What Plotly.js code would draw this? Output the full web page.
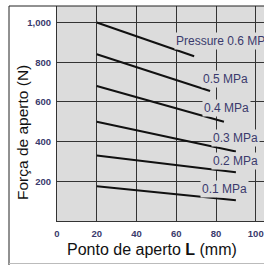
<!DOCTYPE html>
<html>
<head>
<meta charset="utf-8">
<script src="https://cdn.plot.ly/plotly-3.0.1.min.js"></script>
<style>
html,body{margin:0;padding:0;background:#fff;}
#chart{width:264px;height:266px;}
</style>
</head>
<body>
<div id="chart"></div>
<script>
// Data
const pressures = ["0.6", "0.5", "0.4", "0.3", "0.2", "0.1"];
const seriesLabels = ["Pressure 0.6 MPa", "0.5 MPa", "0.4 MPa", "0.3 MPa", "0.2 MPa", "0.1 MPa"];
const xStart = [20, 20, 20, 20, 20, 20];
const xEnd = [69, 77, 84, 90, 90, 90];
const yStart = [1000, 840, 680, 500, 330, 175];
const yEnd = [830, 655, 500, 350, 245, 105];
const xTickVals = [0, 20, 40, 60, 80, 100];
const xTickText = ["0", "20", "40", "60", "80", "100"];
const yTickVals = [200, 400, 600, 800, 1000];
const yTickText = ["200", "400", "600", "800", "1,000"];

// Label placement (data coordinates, left-anchored)
const labelPos = [[59, 909], [72.5, 713], [73, 571], [77.5, 419], [77.5, 301], [72, 159]];

const plotBg = "#dcdcdc";
const gridCol = "#333333";
const labelCol = "#3a3a6c";

const traces = pressures.map((p, i) => ({
  type: "scatter",
  mode: "lines",
  name: seriesLabels[i],
  x: [xStart[i], xEnd[i]],
  y: [yStart[i], yEnd[i]],
  line: {color: "#111111", width: 2},
  hoverinfo: "x+y+name"
}));

const annotations = seriesLabels.map((t, i) => ({
  x: labelPos[i][0], y: labelPos[i][1], xref: "x", yref: "y",
  text: t, showarrow: false, xanchor: "left", yanchor: "middle",
  bgcolor: plotBg, borderpad: 1,
  font: {family: "Liberation Sans, Arial, sans-serif", size: 12, color: labelCol}
}));

annotations.push({
  xref: "paper", yref: "paper", x: (152 - 57) / 207, y: (221 - 250) / 215,
  xanchor: "center", yanchor: "middle", showarrow: false,
  text: "Ponto de aperto <b>L</b> (mm)",
  font: {family: "Liberation Sans, Arial, sans-serif", size: 16, color: "#111"}
});
annotations.push({
  xref: "paper", yref: "paper", x: (22 - 57) / 207, y: (221 - 133) / 215,
  xanchor: "center", yanchor: "middle", showarrow: false, textangle: -90,
  text: "Força de aperto (N)",
  font: {family: "Liberation Sans, Arial, sans-serif", size: 15.5, color: "#111"}
});

const layout = {
  width: 264, height: 266,
  margin: {l: 57, r: 0, t: 6, b: 45, pad: 0},
  paper_bgcolor: "#ffffff",
  plot_bgcolor: plotBg,
  showlegend: false,
  xaxis: {
    range: [0, 104.15], tickvals: xTickVals, ticktext: xTickText,
    showgrid: true, gridcolor: gridCol, gridwidth: 1,
    showline: true, linecolor: gridCol, linewidth: 1,
    zeroline: false, ticks: "", ticklabelstandoff: 4,
    tickfont: {family: "Liberation Sans, Arial, sans-serif", size: 9.5, color: labelCol, weight: "bold"},
    fixedrange: true
  },
  yaxis: {
    range: [0, 1083], tickvals: yTickVals, ticktext: yTickText,
    showgrid: true, gridcolor: gridCol, gridwidth: 1,
    showline: true, linecolor: gridCol, linewidth: 1,
    zeroline: false, ticks: "", ticklabelstandoff: 3,
    tickfont: {family: "Liberation Sans, Arial, sans-serif", size: 9.5, color: labelCol, weight: "bold"},
    fixedrange: true
  },
  annotations: annotations,
  shapes: [
    {type: "line", xref: "paper", yref: "paper", x0: (9 - 57) / 207, x1: (9 - 57) / 207, y0: 1, y1: (221 - 265) / 215, line: {color: "#222", width: 1}},
    {type: "line", xref: "paper", yref: "paper", x0: (9 - 57) / 207, x1: 1.05, y0: 1, y1: 1, line: {color: "#222", width: 1}},
    {type: "line", xref: "paper", yref: "paper", x0: (9 - 57) / 207, x1: 1.05, y0: (221 - 263.5) / 215, y1: (221 - 263.5) / 215, line: {color: "#bbbbbb", width: 1}}
  ]
};

Plotly.newPlot("chart", traces, layout, {staticPlot: true, displayModeBar: false});
</script>
</body>
</html>
